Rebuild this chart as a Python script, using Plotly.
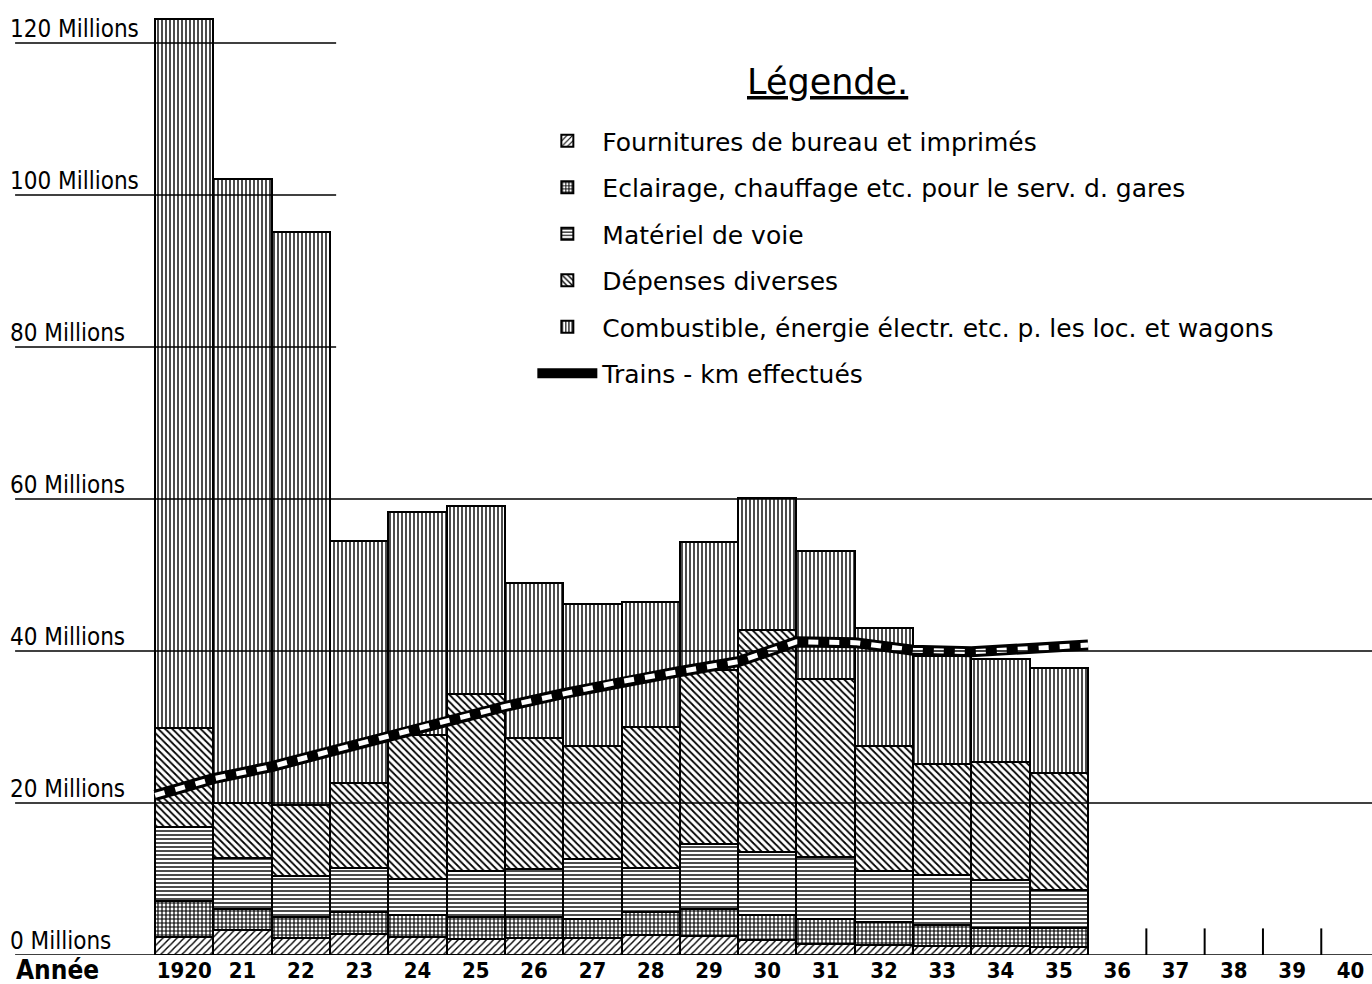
import plotly.graph_objects as go

years = list(range(1920, 1936))
year_labels = ["1920"] + [str(y)[2:] for y in range(1921, 1941)]
all_years = list(range(1920, 1941))

fournitures = [2.4, 3.3, 2.3, 2.7, 2.4, 2.1, 2.2, 2.3, 2.6, 2.5, 2.0, 1.5, 1.3, 1.2, 1.2, 1.1]
eclairage = [4.7, 2.8, 2.7, 3.0, 2.9, 2.9, 2.8, 2.5, 3.1, 3.5, 3.3, 3.3, 3.1, 2.7, 2.3, 2.4]
materiel = [9.7, 6.6, 5.4, 5.8, 4.7, 6.0, 6.3, 7.8, 5.7, 8.6, 8.3, 8.1, 6.6, 6.6, 6.4, 5.1]
depenses = [13.1, 7.3, 9.3, 11.1, 18.9, 23.4, 17.3, 14.9, 18.6, 22.9, 29.2, 23.4, 16.5, 14.6, 15.5, 15.4]
combustible = [93.3, 82.1, 75.4, 31.9, 29.4, 24.7, 20.3, 18.7, 16.4, 16.8, 17.3, 16.9, 15.5, 14.2, 13.6, 13.7]

# trains-km, read at the year boundaries (start of 1920 .. end of 1935)
trains_edges = [y - 0.5 for y in range(1920, 1937)]
trains_km = [21.0, 23.2, 24.8, 26.8, 28.9, 30.8, 32.7, 34.4, 36.0, 37.3, 38.6,
             41.2, 41.1, 40.1, 39.9, 40.3, 40.8]

y_ticks = [0, 20, 40, 60, 80, 100, 120]
y_labels = [f"{v} Millions" for v in y_ticks]
future_edges = [y + 0.5 for y in range(1936, 1940)]

series = [
    ("Fournitures de bureau et imprimés", fournitures, "/", 5, 0.28),
    ("Eclairage, chauffage etc. pour le serv. d. gares", eclairage, "+", 4, 0.5),
    ("Matériel de voie", materiel, "-", 4, 0.35),
    ("Dépenses diverses", depenses, "\\", 5, 0.35),
    ("Combustible, énergie électr. etc. p. les loc. et wagons", combustible, "|", 4, 0.35),
]

FONT = "DejaVu Sans Condensed, DejaVu Sans, sans-serif"

fig = go.Figure()
for i, (name, vals, shape, size, sol) in enumerate(series):
    fig.add_trace(go.Bar(
        x=years, y=vals, name=name, width=1, legendgroup=f"g{i}",
        marker=dict(color="white",
                    line=dict(color="black", width=2),
                    pattern=dict(shape=shape, size=size, solidity=sol,
                                 fgcolor="black", bgcolor="white", fillmode="replace")),
        hoverinfo="skip",
    ))

fig.add_trace(go.Scatter(
    x=trains_edges, y=trains_km, mode="lines", name="Trains - km effectués",
    legendgroup="g5",
    line=dict(color="black", width=11), hoverinfo="skip",
))
fig.add_trace(go.Scatter(
    x=trains_edges, y=trains_km, mode="lines", showlegend=False, legendgroup="g5",
    line=dict(color="white", width=5, dash="10px,11px"), hoverinfo="skip",
))

shapes = []
for v in y_ticks:
    full = v <= 60
    shapes.append(dict(type="line", xref="paper", yref="y",
                       x0=0.011, x1=1 if full else 0.245, y0=v, y1=v,
                       line=dict(color="black", width=1.3), layer="above"))
for e in future_edges:
    shapes.append(dict(type="line", xref="x", yref="y", x0=e, x1=e, y0=0, y1=3.5,
                       line=dict(color="black", width=2)))

annotations = []
for v, lab in zip(y_ticks, y_labels):
    annotations.append(dict(text=lab, xref="paper", yref="y", x=0.006, y=v,
                            xanchor="left", yanchor="bottom", showarrow=False,
                            font=dict(family=FONT, size=24, color="black"), yshift=-2))
annotations.append(dict(text="Année", xref="paper", yref="paper", x=0.010, y=0,
                        xanchor="left", yanchor="middle", showarrow=False, yshift=-15,
                        font=dict(family=FONT, size=26, color="black", weight="bold")))
annotations.append(dict(text="<u>Légende.</u>", xref="paper", yref="paper", x=0.603, y=0.919,
                        xanchor="center", yanchor="middle", showarrow=False,
                        font=dict(family="DejaVu Sans, sans-serif", size=35, color="black")))

fig.update_layout(
    width=1372, height=984,
    margin=dict(l=0, r=0, t=5, b=29),
    paper_bgcolor="white", plot_bgcolor="white",
    barmode="stack", bargap=0,
    shapes=shapes, annotations=annotations,
    showlegend=True,
    legend=dict(
        x=0.388, y=0.881, xanchor="left", yanchor="top",
        traceorder="grouped", tracegroupgap=11,
        bgcolor="rgba(0,0,0,0)", itemwidth=60,
        font=dict(family="DejaVu Sans, sans-serif", size=25, color="black"),
    ),
    xaxis=dict(range=[1916.84, 1940.37], tickvals=all_years, ticktext=year_labels,
               showgrid=False, zeroline=False, showline=False, ticks="",
               tickfont=dict(family=FONT, size=22, color="black", weight="bold")),
    yaxis=dict(range=[0, 125], showgrid=False, zeroline=False, showticklabels=False,
               ticks=""),
)

fig.write_html("out.html", config={"displayModeBar": False},
               post_script="document.body.style.margin='0';document.body.style.overflow='hidden';")
